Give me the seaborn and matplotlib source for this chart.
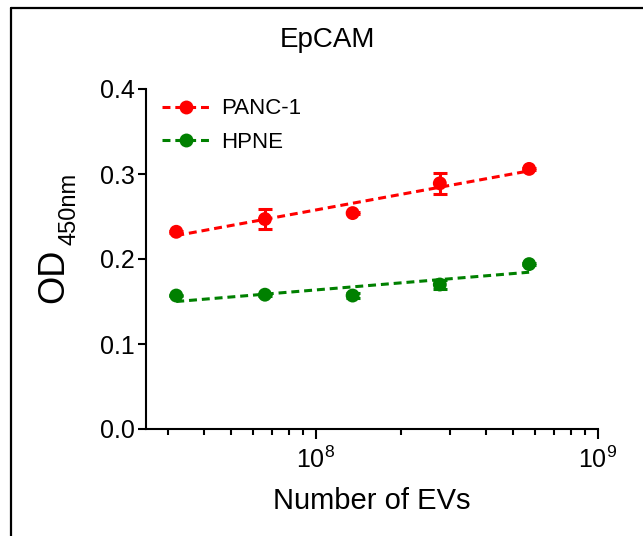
import numpy as np
import pandas as pd
import matplotlib
matplotlib.use("Agg")
import matplotlib.pyplot as plt
import seaborn as sns
from matplotlib.lines import Line2D
from matplotlib.ticker import LogLocator

# ---- data ----
n_evs = [3.2e7, 6.6e7, 1.35e8, 2.75e8, 5.7e8]
panc1 = [0.232, 0.247, 0.254, 0.289, 0.306]
panc1_err = [0.001, 0.012, 0.001, 0.012, 0.001]
hpne = [0.157, 0.158, 0.157, 0.170, 0.194]
hpne_err = [0.001, 0.001, 0.003, 0.005, 0.001]
series_names = ["PANC-1", "HPNE"]
series_colors = ["#ff0000", "#008000"]
title = "EpCAM"
xlabel = "Number of EVs"
ylabel_main = "OD"
ylabel_sub = "450nm"
yticks = [0.0, 0.1, 0.2, 0.3, 0.4]

sns.set_theme(style="ticks")
plt.rcParams["font.family"] = ["Liberation Sans", "DejaVu Sans"]
plt.rcParams["mathtext.fontset"] = "custom"
plt.rcParams["mathtext.rm"] = "Liberation Sans"
plt.rcParams["mathtext.it"] = "Liberation Sans"
plt.rcParams["mathtext.default"] = "regular"
plt.rcParams["text.color"] = "black"

fig = plt.figure(figsize=(6.43, 5.36), dpi=100)
ax = fig.add_axes([146 / 643, 1 - 429 / 536, (598 - 146) / 643, (429 - 89) / 536])

df = pd.DataFrame({"x": n_evs * 2,
                   "y": panc1 + hpne,
                   "err": panc1_err + hpne_err,
                   "series": [series_names[0]] * 5 + [series_names[1]] * 5})

lw = 2.2
dash = (0, (2.6, 1.6))
handles = []
for name, color in zip(series_names, series_colors):
    sub = df[df["series"] == name]
    sns.regplot(data=sub, x="x", y="y", logx=True, ci=None, scatter=False,
                ax=ax, color=color, truncate=True,
                line_kws=dict(linestyle=dash, linewidth=lw))
    ax.errorbar(sub["x"], sub["y"], yerr=sub["err"], fmt="none",
                ecolor=color, elinewidth=2.2, capsize=5, capthick=2.2, zorder=3)
    sns.scatterplot(data=sub, x="x", y="y", ax=ax, color=color, s=100,
                    edgecolor="none", zorder=4, legend=False)
    handles.append(Line2D([], [], color=color, linestyle=dash, linewidth=lw,
                          marker="o", markersize=10, markeredgewidth=0))

ax.set_xscale("log")
ax.set_xlim(2.5e7, 1e9)
ax.set_ylim(0, 0.4)
ax.set_yticks(yticks)
ax.set_yticklabels([f"{v:.1f}" for v in yticks])
ax.xaxis.set_major_locator(LogLocator(base=10, numticks=10))
ax.xaxis.set_minor_locator(LogLocator(base=10, subs=np.arange(2, 10), numticks=20))

for s in ["top", "right"]:
    ax.spines[s].set_visible(False)
for s in ["left", "bottom"]:
    ax.spines[s].set_linewidth(1.5)
    ax.spines[s].set_color("black")

ax.tick_params(axis="y", which="major", length=6, width=1.5, labelsize=18,
               color="black", labelcolor="black", pad=2)
ax.tick_params(axis="x", which="major", length=7, width=1.5, labelsize=18,
               color="black", labelcolor="black", pad=6)
ax.tick_params(axis="x", which="minor", length=4, width=1.5, color="black")

ax.set_xlabel(xlabel, fontsize=21, labelpad=10, color="black")
ax.set_ylabel("")

# y label: "OD" with subscript "450nm", drawn as two rotated text pieces
fig.text(54 / 643, 1 - 276 / 536, ylabel_main, fontsize=26, rotation=90,
         ha="center", va="center", color="black")
fig.text(70 / 643, 1 - 209 / 536, ylabel_sub, fontsize=17, rotation=90,
         ha="center", va="center", color="black")

fig.text(327 / 643, 1 - 40 / 536, title, fontsize=20, ha="center", va="center",
         color="black")

ax.legend(handles, series_names, loc="upper left", bbox_to_anchor=(0.0, 1.018),
          frameon=False, fontsize=16, handlelength=2.2, handletextpad=0.5,
          labelspacing=0.55, borderaxespad=0.3, labelcolor="black")

# outer frame (left and top edges visible in reference)
fig.add_artist(Line2D([11 / 643, 11 / 643], [0, 1 - 8 / 536], color="black",
                      linewidth=1.6, transform=fig.transFigure))
fig.add_artist(Line2D([11 / 643, 1], [1 - 8 / 536, 1 - 8 / 536], color="black",
                      linewidth=1.6, transform=fig.transFigure))

fig.savefig("out.png", dpi=100, facecolor="white")
